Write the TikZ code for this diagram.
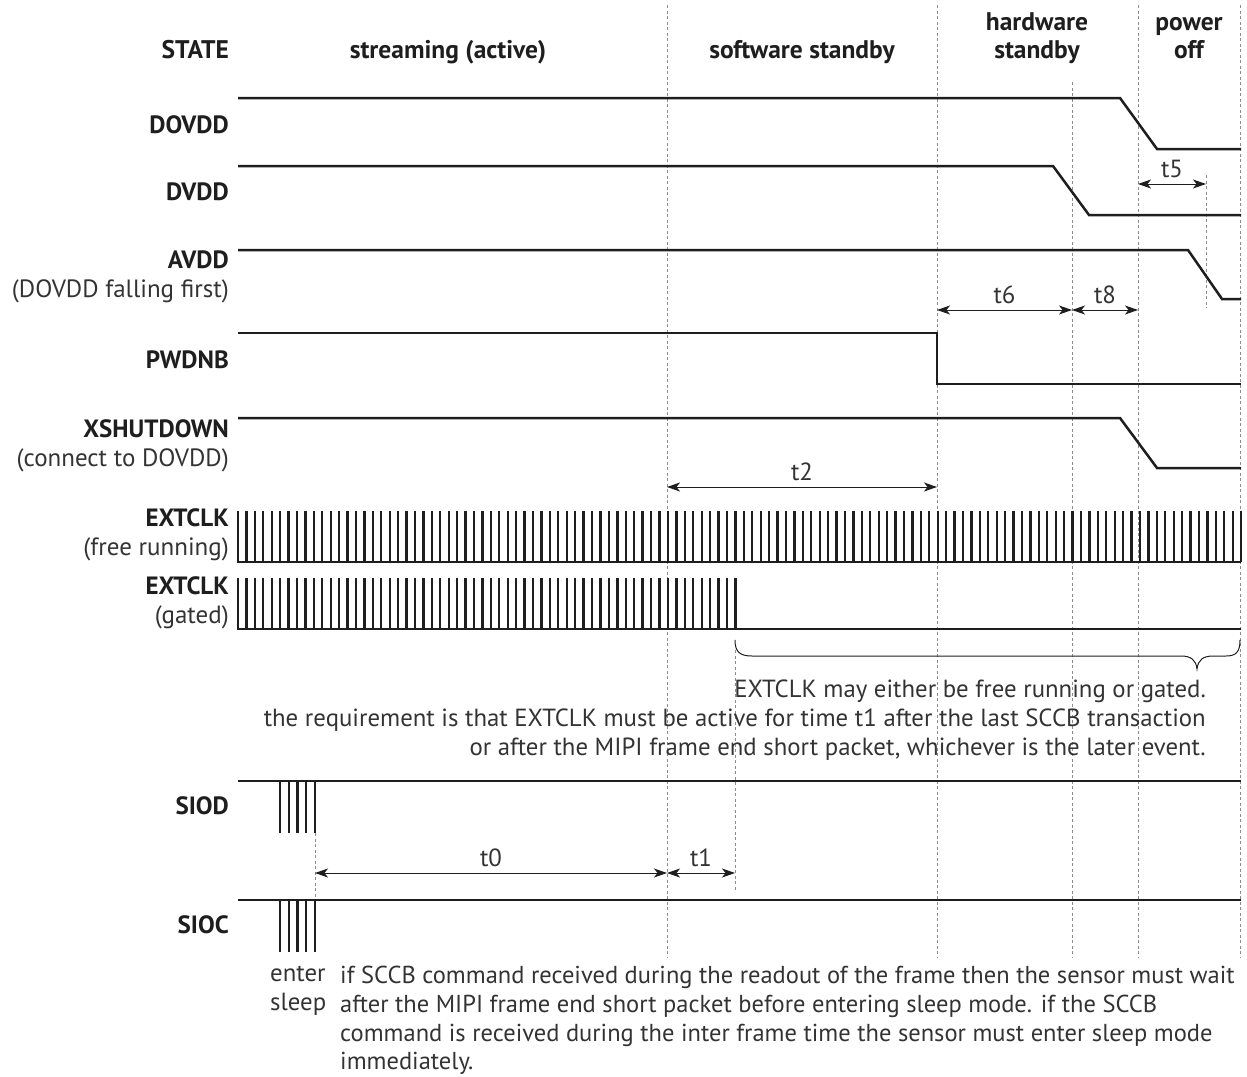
\documentclass[tikz,border=0pt]{standalone}
\usepackage{fontspec}
\setmainfont{PT Sans}
\usetikzlibrary{arrows.meta, calc}
\definecolor{ink}{HTML}{1E1E1E}
\definecolor{txt}{HTML}{333333}
\definecolor{guidegray}{HTML}{8C8C8C}

\begin{document}
\begin{tikzpicture}[
  x=1pt, y=-1pt,
  sig/.style={draw=ink, line width=2.5pt},
  clk/.style={draw=ink, line width=2.3pt},
  guide/.style={draw=guidegray, line width=0.8pt, dash pattern=on 3pt off 2.5pt},
  dim/.style={{Stealth[length=13pt,width=9pt,inset=3.5pt]}-{Stealth[length=13pt,width=9pt,inset=3.5pt]},
              draw=ink, line width=1pt},
  lbl/.style={anchor=east, align=right, text=ink, inner sep=0pt,
              font=\fontsize{25}{29}\selectfont},
  state/.style={align=center, text=ink, inner sep=0pt,
                font=\fontsize{25.5}{28}\selectfont\bfseries},
  tlabel/.style={text=txt, inner sep=0pt, font=\fontsize{24.8}{26}\selectfont},
  note/.style={text=txt, inner sep=0pt, font=\fontsize{24.8}{28.7}\selectfont}
]
  \useasboundingbox (0,0) rectangle (1247,1076);

  % state headers
  \node[state, anchor=east] (hstate) at (229,50) {STATE};
  \node[state] (hstream) at (448,52) {streaming (active)};
  \node[state] (hsw) at (802,52) {software standby};
  \node[state] (hhw) at (1037,38) {hardware\\standby};
  \node[state] (hoff) at (1189,38) {power\\off};

  % guide lines
  \draw[guide] (667,5) -- (667,958);
  \draw[guide] (937,5) -- (937,958);
  \draw[guide] (1072,82) -- (1072,958);
  \draw[guide] (1138,5) -- (1138,958);
  \draw[guide] (1240,5) -- (1240,958);
  \draw[guide] (1206,175) -- (1206,308);
  \draw[guide] (735,650) -- (735,890);
  \draw[guide] (315,833) -- (315,900);

  % signal names
  \node[lbl] (ndovdd) at (229,125) {\bfseries DOVDD};
  \node[lbl] (ndvdd) at (229,192) {\bfseries DVDD};
  \node[lbl] (navdd) at (229,277) {\bfseries AVDD\\\color{txt}(DOVDD falling first)};
  \node[lbl] (npwdnb) at (229,360) {\bfseries PWDNB};
  \node[lbl] (nxshut) at (229,446) {\bfseries XSHUTDOWN\\\color{txt}(connect to DOVDD)};
  \node[lbl] (nclkfree) at (229,535) {\bfseries EXTCLK\\\color{txt}(free running)};
  \node[lbl] (nclkgate) at (229,603) {\bfseries EXTCLK\\\color{txt}(gated)};
  \node[lbl] (nsiod) at (229,806) {\bfseries SIOD};
  \node[lbl] (nsioc) at (229,925) {\bfseries SIOC};

  % waveforms
  \draw[sig] (238,98) -- (1120,98) -- (1157,149) -- (1241,149);
  \draw[sig] (238,166) -- (1053,166) -- (1089,215) -- (1241,215);
  \draw[sig] (238,250) -- (1188,250) -- (1222,299) -- (1241,299);
  \draw[sig] (238,333) -- (937,333) -- (937,384) -- (1241,384);
  \draw[sig] (238,418) -- (1120,418) -- (1157,468) -- (1241,468);

  % clocks
  \foreach \i in {0,...,119}
    \draw[clk] ({238+\i*8.43},562) -- ({238+\i*8.43},511);
  \draw[sig] (237,562) -- (1241,562);
  \foreach \i in {0,...,59}
    \draw[clk] ({238+\i*8.43},629) -- ({238+\i*8.43},578);
  \draw[sig] (237,629) -- (1241,629);

  % sccb
  \draw[sig] (238,781) -- (1241,781);
  \draw[sig] (238,900) -- (1241,900);
  \foreach \x in {280,288.7,297.5,306.2,315} {
    \draw[clk] (\x,781) -- (\x,833);
    \draw[clk] (\x,900) -- (\x,952);
  }

  % brace
  \draw[ink, line width=1pt]
    (735,640) .. controls (735,652) and (740,656) .. (752,656)
    -- (1181,656) .. controls (1191,656) and (1196,660) .. (1197,669)
    .. controls (1198,660) and (1203,656) .. (1213,656)
    -- (1226,656) .. controls (1236,656) and (1240,652) .. (1240,640);

  % timing marks
  \coordinate (m5a) at (1138,184);
  \coordinate (m5b) at (1206,184);
  \coordinate (m6a) at (937,310);
  \coordinate (m6b) at (1072,310);
  \coordinate (m8b) at (1138,310);
  \coordinate (m2a) at (667,487);
  \coordinate (m2b) at (937,487);
  \coordinate (m0a) at (315,873);
  \coordinate (m0b) at (667,873);
  \coordinate (m1b) at (735,873);

  \draw[dim] (m5a) -- (m5b) node[tlabel, midway, above=6pt] (lt5) {t5};
  \draw[dim] (m6a) -- (m6b) node[tlabel, midway, above=6pt] (lt6) {t6};
  \draw[dim] (m6b) -- (m8b) node[tlabel, midway, above=6pt] (lt8) {t8};
  \draw[dim] (m2a) -- (m2b) node[tlabel, midway, above=6pt] (lt2) {t2};
  \draw[dim] (m0a) -- (m0b) node[tlabel, midway, above=6pt] (lt0) {t0};
  \draw[dim] (m0b) -- (m1b) node[tlabel, midway, above=6pt] (lt1) {t1};

  % notes
  \node[note, anchor=east, align=right] (nclknote) at (1206,720)
    {EXTCLK may either be free running or gated.\\
     the requirement is that EXTCLK must be active for time t1 after the last SCCB transaction\\
     or after the MIPI frame end short packet, whichever is the later event.};
  \node[note, anchor=north west, align=left] (nsleep) at (270,966)
    {enter\\sleep};
  \node[note, anchor=north west, align=left, font=\fontsize{24.5}{28.7}\selectfont]
    (nsccbnote) at (340,966)
    {if SCCB command received during the readout of the frame then the sensor must wait\\
     after the MIPI frame end short packet before entering sleep mode. if the SCCB\\
     command is received during the inter frame time the sensor must enter sleep mode\\
     immediately.};
\end{tikzpicture}
\end{document}
